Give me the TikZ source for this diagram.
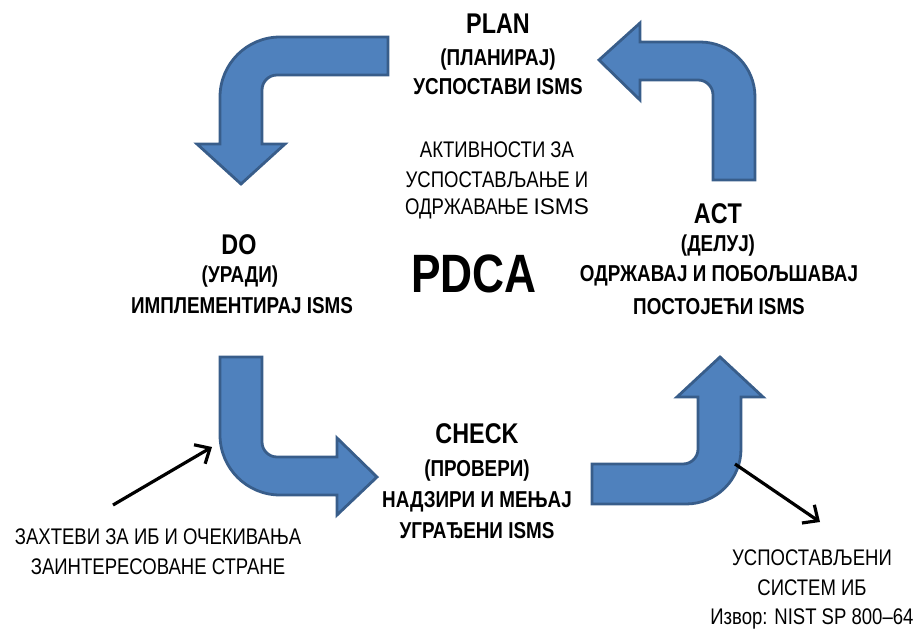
\documentclass[tikz,border=0pt]{standalone}
\usepackage{fontspec}
\setmainfont{Liberation Sans}[FakeStretch=0.82]
\newfontfamily\wideft{Liberation Sans}
\usetikzlibrary{arrows.meta}
\definecolor{arrowfill}{HTML}{4F81BD}
\definecolor{arrowline}{HTML}{385D8A}

\begin{document}
\begin{tikzpicture}[x=1pt,y=-1pt,
                    big arrow/.style={fill=arrowfill,draw=arrowline,line width=2.8pt},
                    thin arrow/.style={line width=3.2pt,-{Straight Barb[length=12pt,width=22pt]}},
                    phase node/.style={font=\fontsize{28.5}{33}\selectfont\bfseries},
                    word node/.style={font=\fontsize{23}{27}\selectfont\bfseries},
                    step node/.style={font=\fontsize{23}{27}\selectfont\bfseries},
                    text node/.style={font=\fontsize{22.6}{27}\selectfont}]

  \useasboundingbox (0,0) rectangle (917,631);

  % bent arrows
  \draw[big arrow] (388,37) -- (280,37) arc[start angle=-90,end angle=-180,radius=60]
    -- (220,144) -- (197,144) -- (241,184) -- (285,144) -- (262,144)
    -- (262,90) arc[start angle=180,end angle=270,radius=15] -- (388,75) -- cycle;
  \draw[big arrow] (755,180) -- (755,97) arc[start angle=0,end angle=-90,radius=55]
    -- (640,42) -- (640,23) -- (599,60) -- (640,100) -- (640,80)
    -- (698,80) arc[start angle=-90,end angle=0,radius=15] -- (713,180) -- cycle;
  \draw[big arrow] (220,357) -- (220,435) arc[start angle=180,end angle=90,radius=60]
    -- (337,495) -- (337,515) -- (377,477) -- (337,438) -- (337,457)
    -- (277,457) arc[start angle=90,end angle=180,radius=15] -- (262,357) -- cycle;
  \draw[big arrow] (592,504) -- (686,504) arc[start angle=90,end angle=0,radius=55]
    -- (741,397) -- (763,397) -- (720,357) -- (677,397) -- (698,397)
    -- (698,449) arc[start angle=0,end angle=90,radius=15] -- (592,464) -- cycle;

  % phases
  \node[phase node] (plan) at (498,24) {PLAN};
  \node[word node] (plan2) at (498,60) {(ПЛАНИРАЈ)};
  \node[step node] (plan3) at (498,87) {УСПОСТАВИ ISMS};

  \node[phase node] (do) at (239,245) {DO};
  \node[word node] (do2) at (240,277) {(УРАДИ)};
  \node[step node] (do3) at (242,306) {ИМПЛЕМЕНТИРАЈ ISMS};

  \node[phase node] (act) at (718,214) {ACT};
  \node[word node] (act2) at (718,246) {(ДЕЛУЈ)};
  \node[step node] (act3) at (719,276) {ОДРЖАВАЈ И ПОБОЉШАВАЈ};
  \node[step node] (act4) at (719,307) {ПОСТОЈЕЋИ ISMS};

  \node[phase node] (check) at (477,434) {CHECK};
  \node[word node] (check2) at (477,471) {(ПРОВЕРИ)};
  \node[step node] (check3) at (477,502) {НАДЗИРИ И МЕЊАЈ};
  \node[step node] (check4) at (477,531) {УГРАЂЕНИ ISMS};

  % centre
  \node[text node] (mid1) at (497,150) {АКТИВНОСТИ ЗА};
  \node[text node] (mid2) at (497,180) {УСПОСТАВЉАЊЕ И};
  \node[text node] (mid3) at (497,209) {ОДРЖАВАЊЕ {\wideft ISMS}};
  \node[font=\fontsize{54}{62}\selectfont\bfseries] (pdca) at (474,274) {PDCA};

  % input and output
  \node[text node] (in1) at (158,537) {ЗАХТЕВИ ЗА ИБ И ОЧЕКИВАЊА};
  \node[text node] (in2) at (158,567) {ЗАИНТЕРЕСОВАНЕ СТРАНЕ};
  \node[text node] (out1) at (812,558) {УСПОСТАВЉЕНИ};
  \node[text node] (out2) at (812,588) {СИСТЕМ ИБ};
  \node[text node,anchor=east] (src) at (917,619) {Извор: NIST SP 800–64};

  \coordinate (inA) at (113,505);
  \coordinate (inB) at (212,447);
  \coordinate (outA) at (735,464);
  \coordinate (outB) at (820,522);
  \draw[thin arrow] (inA) -- (inB);
  \draw[thin arrow] (outA) -- (outB);
\end{tikzpicture}
\end{document}
